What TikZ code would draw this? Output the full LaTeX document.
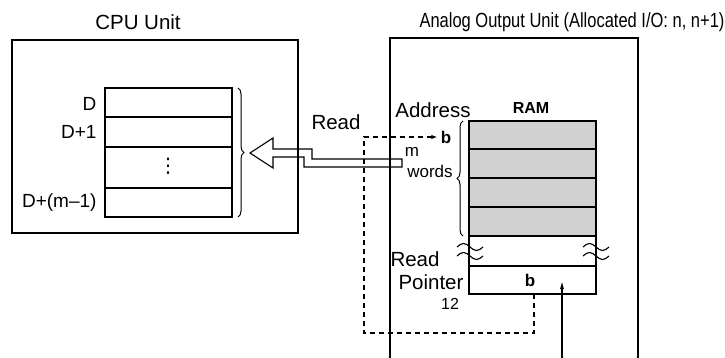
\documentclass[tikz,border=0pt]{standalone}
\usepackage{fontspec}
\setmainfont{Liberation Sans}
\newfontfamily\symfont{DejaVu Sans}
\usepackage{graphicx}
\usepackage{tikz}
\usetikzlibrary{arrows.meta, decorations.pathreplacing}

\tikzset{
    unitbox/.style={line width=1.2pt},
    cell/.style={line width=1.2pt},
    ramcell/.style={line width=1.2pt, fill=black!18},
    title/.style={font=\fontsize{20.5}{22}\selectfont},
    lbl/.style={font=\fontsize{19}{21}\selectfont},
    big/.style={font=\fontsize{20.5}{22}\selectfont},
    small/.style={font=\fontsize{17}{18}\selectfont},
    flow/.style={line width=1.1pt, dashed, dash pattern=on 5pt off 4pt},
}

\begin{document}
\begin{tikzpicture}[x=1pt, y=-1pt, line join=miter]

    \useasboundingbox (0,0) rectangle (725,358);

    % ==========================================
    % UNIT FRAMES AND TITLES
    % ==========================================

    % CPU Unit frame
    \draw[unitbox] (12,40) rectangle (298,233);
    \node[title] (cputitle) at (138,22) {CPU Unit};

    % Analog Output Unit frame (open at the bottom)
    \draw[unitbox] (390,358) -- (390,38) -- (638,38) -- (638,358);
    \node[title] (aotitle) at (572,22) {\scalebox{0.805}[1]{Analog Output Unit (Allocated I/O: n, n+1)}};

    % ==========================================
    % CPU DATA MEMORY WORDS
    % ==========================================

    \coordinate (cpuTL) at (105,88);
    \coordinate (cpuBR) at (232,217);
    \draw[cell] (cpuTL) rectangle (cpuBR);
    \draw[cell] (105,117) -- (232,117);
    \draw[cell] (105,147) -- (232,147);
    \draw[cell] (105,188) -- (232,188);

    \node[lbl, anchor=east] (d0) at (100,104) {D};
    \node[lbl, anchor=east] (d1) at (100,132) {D+1};
    \node[lbl, anchor=east] (dm) at (100,203) {D+(m\textendash1)};
    \node[font=\symfont\fontsize{20}{22}\selectfont] (dots) at (168,166) {⋮};

    % brace round the words, pointing at the arrow
    \draw[line width=1pt, decoration={brace, amplitude=6pt}, decorate]
        (238,88) -- (238,217);

    % ==========================================
    % HOLLOW READ ARROW
    % ==========================================

    \draw[line width=1.1pt] (250,153) -- (273,138) -- (273,149) -- (312,149)
        -- (312,159) -- (402,159) -- (402,167) -- (304,167) -- (304,157)
        -- (273,157) -- (273,168) -- cycle;
    \node[big] (read) at (336,122) {Read};

    % ==========================================
    % RAM IN THE ANALOG OUTPUT UNIT
    % ==========================================

    \node[font=\bfseries\fontsize{16}{18}\selectfont] (ram) at (531,108) {RAM};
    \node[big] (addr) at (433,110) {Address};

    % shaded words m
    \foreach \y in {121,149,178,207} {
        \draw[ramcell] (469,\y) rectangle (596,\y+29);
    }
    \draw[cell] (469,236) rectangle (596,266);
    \draw[cell] (469,266) rectangle (596,294);

    % break marks on both sides
    \foreach \x in {457,583} {
        \foreach \y in {247,256} {
            \draw[line width=1.1pt] (\x,\y) sin (\x+6.5,\y-3.5) cos (\x+13,\y)
                sin (\x+19.5,\y+3.5) cos (\x+26,\y);
        }
    }

    % brace for m words
    \draw[line width=1pt, decoration={brace, amplitude=6pt}, decorate]
        (463,236) -- (463,121);
    \node[small] (mm) at (412,152) {m};
    \node[small] (words) at (430,171) {words};

    % read pointer
    \node[big] (rp1) at (415,259) {Read};
    \node[big] (rp2) at (431,282) {Pointer};
    \node[font=\fontsize{16}{17}\selectfont] (twelve) at (450,304) {12};
    \node[font=\bfseries\fontsize{17}{18}\selectfont] (bval) at (530,280) {b};

    % ==========================================
    % POINTER ARROWS
    % ==========================================

    \node[font=\bfseries\fontsize{17}{18}\selectfont] (baddr) at (446,137) {b};
    \coordinate (pstart) at (534,294);
    \draw[flow, -{Latex[length=6pt, width=4.5pt]}]
        (pstart) -- (534,333) -- (364,333) -- (364,137) -- (baddr.west);

    \coordinate (wr) at (562,358);
    \draw[line width=1.2pt, -{Latex[length=8pt, width=4pt]}] (wr) -- (562,281);

\end{tikzpicture}
\end{document}
